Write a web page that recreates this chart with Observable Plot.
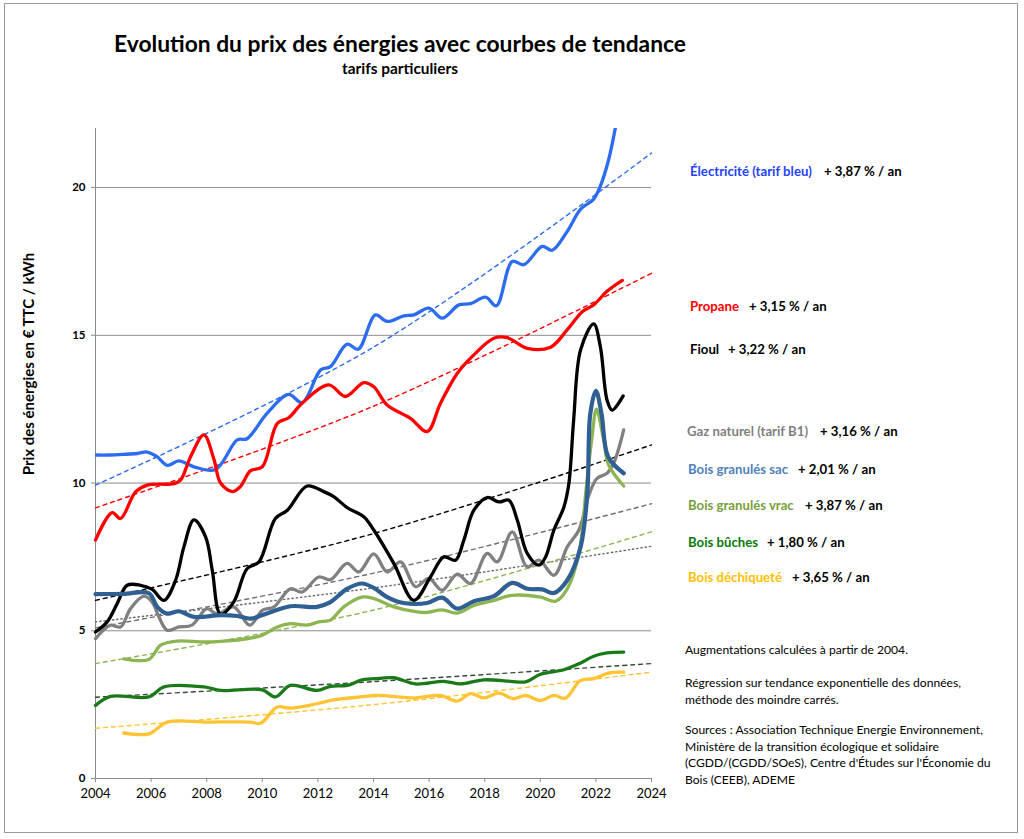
<!DOCTYPE html>
<html><head><meta charset="utf-8">
<script src="https://cdn.jsdelivr.net/npm/d3@7"></script>
<script src="https://cdn.jsdelivr.net/npm/@observablehq/plot@0.6"></script>
<style>
html,body{margin:0;padding:0;background:#fff;}
#wrap{position:relative;width:1024px;height:839px;font-family:Lato,"Open Sans",sans-serif;color:#000;}
#frame{position:absolute;left:4px;top:3px;width:1014px;height:830px;border:1px solid #9a9a9a;box-sizing:border-box;pointer-events:none;}
#chart{position:absolute;left:0;top:0;}
.t{position:absolute;white-space:nowrap;}
.lg{position:absolute;white-space:nowrap;font-weight:bold;font-size:13.2px;line-height:1;transform:translateY(-50%);}
.nt{position:absolute;white-space:nowrap;font-size:12.1px;line-height:16.5px;}
</style></head>
<body>
<div id="wrap">
  <div id="chart"></div>
  <div class="t" style="left:0;width:800px;top:29px;text-align:center;font-weight:bold;font-size:22.8px;">Evolution du prix des énergies avec courbes de tendance</div>
  <div class="t" style="left:0;width:800px;top:59px;text-align:center;font-weight:bold;font-size:15.4px;">tarifs particuliers</div>
  <div class="t" style="left:28px;top:364px;transform:translate(-50%,-50%) rotate(-90deg);font-weight:bold;font-size:15px;">Prix des énergies en € TTC / kWh</div>
  <div id="legend"></div>
  <div class="nt" style="left:685px;top:642px;">Augmentations calculées à partir de 2004.</div>
  <div class="nt" style="left:685px;top:675px;">Régression sur tendance exponentielle des données,<br>méthode des moindre carrés.</div>
  <div class="nt" style="left:685px;top:722px;">Sources : Association Technique Energie Environnement,<br>Ministère de la transition écologique et solidaire<br>(CGDD/(CGDD/SOeS), Centre d'Études sur l'Économie du<br>Bois (CEEB), ADEME</div>
  <div id="frame"></div>
</div>
<script>
// ---- data (year, € TTC / kWh) ----
const yearTicks = [2004, 2006, 2008, 2010, 2012, 2014, 2016, 2018, 2020, 2022, 2024];
const valueTicks = [0, 5, 10, 15, 20];
const gridValues = [5, 10, 15, 20];

const electricite = [[2004,10.95],[2004.5,10.95],[2005.0,10.97],[2005.5,11.0],[2005.86,11.05],[2006.2,10.9],[2006.58,10.6],[2007.0,10.75],[2007.54,10.55],[2008.32,10.46],[2009.1,11.46],[2009.45,11.5],[2010.17,12.36],[2010.95,13.0],[2011.43,12.72],[2012.1,13.83],[2012.45,13.94],[2013.05,14.7],[2013.45,14.53],[2014.07,15.69],[2014.49,15.47],[2015.09,15.66],[2015.45,15.69],[2015.99,15.92],[2016.47,15.58],[2017.07,16.03],[2017.49,16.07],[2018.03,16.29],[2018.42,16.0],[2018.99,17.5],[2019.41,17.39],[2020.07,18.01],[2020.43,17.88],[2020.97,18.52],[2021.45,19.27],[2021.92,19.61],[2022.16,20.05],[2022.46,20.95],[2022.7,22.02],[2023.0,23.6]];
const propane = [[2004,8.07],[2004.6,9.0],[2004.9,8.8],[2005.44,9.7],[2005.86,9.93],[2006.82,9.98],[2007.06,10.1],[2007.42,10.89],[2007.9,11.63],[2008.26,10.8],[2008.5,10.0],[2008.92,9.71],[2009.2,9.87],[2009.58,10.42],[2010.0,10.55],[2010.54,12.02],[2010.95,12.21],[2011.43,12.7],[2012.39,13.32],[2012.99,12.93],[2013.65,13.4],[2014.01,13.26],[2014.49,12.64],[2015.33,12.19],[2015.93,11.74],[2016.41,12.7],[2017.01,13.71],[2017.61,14.34],[2018.33,14.9],[2018.81,14.92],[2019.53,14.56],[2020.37,14.6],[2020.97,15.19],[2021.51,15.8],[2021.92,16.03],[2022.4,16.49],[2022.95,16.86]];
const fioul = [[2004,4.96],[2004.42,5.3],[2004.78,5.92],[2005.14,6.54],[2005.62,6.54],[2006.04,6.4],[2006.46,6.03],[2006.88,6.71],[2007.18,7.84],[2007.54,8.75],[2007.96,8.18],[2008.2,7.05],[2008.5,5.56],[2008.97,5.97],[2009.45,7.1],[2009.88,7.33],[2010.47,8.8],[2010.9,9.08],[2011.61,9.9],[2012.21,9.71],[2012.57,9.54],[2013.05,9.17],[2013.65,8.86],[2014.01,8.41],[2014.73,7.28],[2015.45,6.03],[2016.05,6.82],[2016.53,7.5],[2016.95,7.39],[2017.25,8.07],[2017.61,9.08],[2018.09,9.51],[2018.51,9.36],[2018.87,9.42],[2019.17,8.75],[2019.53,7.62],[2019.95,7.22],[2020.19,7.5],[2020.49,8.41],[2020.85,9.19],[2021.03,10.0],[2021.2,12.14],[2021.45,14.51],[2021.92,15.39],[2022.16,14.62],[2022.4,12.81],[2022.58,12.47],[2022.98,12.95]];
const gaz = [[2004,4.73],[2004.54,5.19],[2004.9,5.13],[2005.26,5.75],[2005.74,6.17],[2006.04,5.97],[2006.28,5.47],[2006.58,5.02],[2007.0,5.13],[2007.47,5.19],[2008.01,5.75],[2008.37,5.56],[2008.97,5.81],[2009.55,5.19],[2010.0,5.69],[2010.42,5.81],[2011.01,6.42],[2011.43,6.31],[2012.03,6.82],[2012.45,6.73],[2013.05,7.28],[2013.47,6.99],[2014.01,7.6],[2014.49,6.99],[2014.97,7.33],[2015.51,6.49],[2015.99,6.77],[2016.47,6.37],[2017.01,6.92],[2017.49,6.6],[2018.09,7.62],[2018.45,7.33],[2018.99,8.35],[2019.53,7.16],[2019.95,7.39],[2020.49,6.88],[2020.97,7.84],[2021.39,8.41],[2021.75,9.6],[2022.04,10.16],[2022.4,10.33],[2022.64,10.67],[2023.0,11.8]];
const granulesSac = [[2004,6.24],[2005.0,6.25],[2005.92,6.27],[2006.22,5.81],[2006.58,5.58],[2007.0,5.66],[2007.54,5.47],[2008.5,5.53],[2009.1,5.5],[2009.58,5.41],[2010.0,5.53],[2011.01,5.83],[2011.97,5.81],[2012.45,5.97],[2013.05,6.42],[2013.59,6.6],[2014.01,6.45],[2014.49,6.14],[2015.09,5.94],[2015.93,5.94],[2016.47,6.12],[2017.01,5.75],[2017.61,6.0],[2018.33,6.17],[2018.99,6.62],[2019.53,6.42],[2020.07,6.4],[2020.49,6.28],[2020.97,6.71],[2021.45,7.84],[2021.69,9.65],[2021.8,12.36],[2022.0,13.12],[2022.2,12.36],[2022.44,10.89],[2023.0,10.33]];
const granulesVrac = [[2005.02,4.05],[2005.92,4.03],[2006.34,4.51],[2006.94,4.65],[2007.9,4.62],[2008.62,4.65],[2009.45,4.73],[2010.0,4.85],[2010.54,5.13],[2011.01,5.24],[2011.61,5.19],[2012.03,5.3],[2012.45,5.36],[2012.93,5.81],[2013.59,6.14],[2014.01,6.09],[2014.73,5.81],[2015.57,5.64],[2015.93,5.62],[2016.47,5.71],[2017.01,5.6],[2017.61,5.86],[2018.33,6.03],[2018.99,6.2],[2020.01,6.14],[2020.55,6.0],[2020.97,6.42],[2021.39,7.62],[2021.66,9.9],[2021.86,11.56],[2022.02,12.5],[2022.28,11.46],[2022.46,10.61],[2023.0,9.9]];
const buches = [[2004,2.47],[2004.54,2.78],[2005.92,2.76],[2006.46,3.1],[2007.9,3.1],[2008.5,2.98],[2010.0,3.0],[2010.47,2.76],[2011.01,3.15],[2011.97,2.98],[2012.45,3.12],[2013.05,3.15],[2013.59,3.34],[2014.25,3.39],[2014.73,3.41],[2015.51,3.2],[2016.53,3.29],[2017.13,3.2],[2017.97,3.34],[2018.93,3.29],[2019.47,3.27],[2020.01,3.53],[2020.85,3.68],[2021.45,3.91],[2021.92,4.14],[2022.4,4.25],[2023.0,4.28]];
const dechiquete = [[2005.02,1.54],[2005.92,1.51],[2006.58,1.91],[2008.01,1.91],[2009.58,1.91],[2009.94,1.87],[2010.54,2.42],[2011.01,2.38],[2011.97,2.53],[2012.57,2.66],[2013.53,2.76],[2014.13,2.81],[2015.51,2.73],[2016.41,2.81],[2017.01,2.62],[2017.49,2.87],[2017.97,2.73],[2018.51,2.89],[2019.04,2.7],[2019.47,2.81],[2020.01,2.64],[2020.49,2.81],[2020.9,2.72],[2021.45,3.32],[2021.92,3.38],[2022.52,3.58],[2023.0,3.6]];

// trend curves (2004, 2014, 2024)
const trendYears = [2004, 2014, 2024];
const trendElectricite = [9.93, 14.6, 21.17];
const trendPropane = [9.16, 12.6, 17.1];
const trendFioul = [6.03, 8.29, 11.29];
const trendGaz = [5.1, 6.95, 9.3];
const trendSac = [5.3, 6.45, 7.86];
const trendVrac = [3.89, 5.7, 8.35];
const trendBuches = [2.75, 3.28, 3.89];
const trendDechiquete = [1.7, 2.5, 3.6];

const legendLabels = ["Électricité (tarif bleu)", "Propane", "Fioul", "Gaz naturel (tarif B1)", "Bois granulés sac", "Bois granulés vrac", "Bois bûches", "Bois déchiqueté"];
const legendRates = ["+ 3,87 % / an", "+ 3,15 % / an", "+ 3,22 % / an", "+ 3,16 % / an", "+ 2,01 % / an", "+ 3,87 % / an", "+ 1,80 % / an", "+ 3,65 % / an"];

// ---- styles ----
const legendColors = ["#2244ff", "#ff0000", "#000000", "#7f7f7f", "#4f81bd", "#77a03c", "#0a7a0a", "#ffc000"];
const legendPos = [[690,172,824],[690,307,749],[690,350,728],[687,432,820],[688,470,798],[688,506,805],[688,543,767],[688,578,792]];

const toRows = a => a.map(([x, y]) => ({x, y}));
const trendRows = v => trendYears.map((x, i) => ({x, y: v[i]}));

const series = [
  {d: electricite, c: "#2b6cf0", w: 3.3, clip: true},
  {d: propane, c: "#ff0000", w: 3.3},
  {d: gaz, c: "#808080", w: 3.3},
  {d: fioul, c: "#000000", w: 3.3},
  {d: buches, c: "#1a7a1a", w: 3.3},
  {d: dechiquete, c: "#ffc333", w: 3.3},
  {d: granulesVrac, c: "#8db552", w: 3.3},
  {d: granulesSac, c: "#2f5f93", w: 4.2}
];
const trends = [
  {d: trendElectricite, c: "#2b6cf0", dash: "4,4"},
  {d: trendPropane, c: "#ff0000", dash: "4,4"},
  {d: trendFioul, c: "#000000", dash: "4,4"},
  {d: trendGaz, c: "#707070", dash: "4,4"},
  {d: trendSac, c: "#666666", dash: "1.3,3"},
  {d: trendVrac, c: "#8db552", dash: "4,4"},
  {d: trendBuches, c: "#3a4a3a", dash: "4,4"},
  {d: trendDechiquete, c: "#ffc333", dash: "4,4"}
];

const chart = Plot.plot({
  width: 1024,
  height: 839,
  marginLeft: 95,
  marginRight: 373,
  marginTop: 128,
  marginBottom: 61,
  style: {fontFamily: "Lato, 'Open Sans', sans-serif", background: "transparent", overflow: "visible"},
  x: {domain: [2004, 2024]},
  y: {domain: [0, 22]},
  marks: [
    Plot.ruleY(gridValues, {stroke: "#8c8c8c", strokeWidth: 1, strokeOpacity: 1}),
    Plot.ruleY([0], {stroke: "#8c8c8c", strokeWidth: 1, strokeOpacity: 1}),
    Plot.ruleX([2004], {y1: 0, y2: 22, stroke: "#8c8c8c", strokeWidth: 1, strokeOpacity: 1}),
    ...trends.map(t => Plot.line(trendRows(t.d), {x: "x", y: "y", stroke: t.c, strokeWidth: 1.4, strokeDasharray: t.dash, curve: "catmull-rom"})),
    ...series.map(s => Plot.line(toRows(s.d), {x: "x", y: "y", stroke: s.c, strokeWidth: s.w, curve: "catmull-rom", clip: !!s.clip})),
    Plot.axisX({ticks: yearTicks, tickFormat: d => String(d), tickSize: 4, tickPadding: 6, fontSize: 13, stroke: "#8c8c8c", label: null}),
    Plot.axisY({ticks: valueTicks, tickSize: 4, tickPadding: 6, fontSize: 11.5, fontWeight: "bold", stroke: "#8c8c8c", label: null})
  ]
});
document.getElementById("chart").appendChild(chart);

// legend labels
const lg = document.getElementById("legend");
legendLabels.forEach((lab, i) => {
  const [x, y, rx] = legendPos[i];
  const a = document.createElement("div");
  a.className = "lg"; a.style.left = x + "px"; a.style.top = y + "px"; a.style.color = legendColors[i];
  a.textContent = lab; lg.appendChild(a);
  const b = document.createElement("div");
  b.className = "lg"; b.style.left = rx + "px"; b.style.top = y + "px"; b.style.color = "#000";
  b.textContent = legendRates[i]; lg.appendChild(b);
});
</script>
</body></html>
